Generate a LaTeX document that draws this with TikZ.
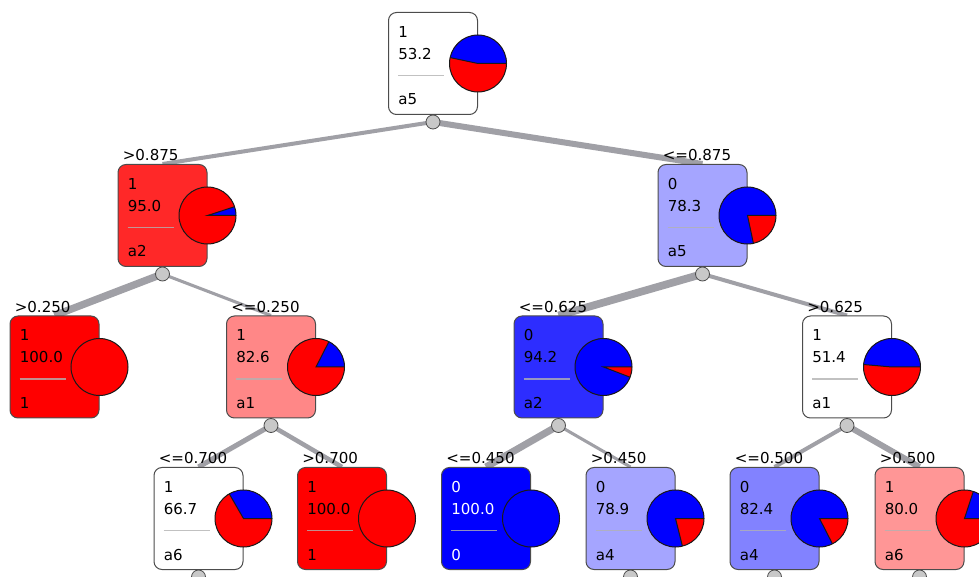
\documentclass[tikz,border=0pt]{standalone}
\usepackage{fontspec}
\setmainfont{DejaVu Sans}
\usetikzlibrary{backgrounds}

\definecolor{edgegray}{RGB}{160,160,166}
\definecolor{dotgray}{RGB}{200,200,200}
\definecolor{pred}{RGB}{255,0,0}
\definecolor{pblue}{RGB}{0,0,255}
\definecolor{redA}{RGB}{255,40,40}
\definecolor{redB}{RGB}{255,135,135}
\definecolor{redC}{RGB}{255,150,150}
\definecolor{blueA}{RGB}{45,45,255}
\definecolor{blueB}{RGB}{165,165,255}
\definecolor{blueC}{RGB}{130,130,255}

% pie on the right edge of a box: #1 node, #2 end angle of the blue part
\newcommand{\piechart}[2]{%
  \fill[pred] (#1.east) circle[radius=28.5];
  \ifnum#2>0
    \fill[pblue] (#1.east) -- ++(28.5,0) arc[start angle=0, end angle=#2, radius=28.5] -- cycle;
    \ifnum#2<360 \draw[pieline] (#1.east) ++(#2:28.5) -- (#1.east) -- ++(28.5,0); \fi
  \fi
  \draw[pieline] (#1.east) circle[radius=28.5];
}

% #1 name, #2 x, #3 y, #4 fill, #5 text colour, #6 class, #7 percent, #8 attribute, #9 pie angle
\newcommand{\treenode}[9]{%
  \node[box, fill=#4] (#1) at (#2,#3) {};
  \node[info, text=#5] (#1-cls) at ([shift={(10,-25.5)}]#1.north west) {#6};
  \node[info, text=#5] (#1-pct) at ([shift={(10,-47.5)}]#1.north west) {#7};
  \draw[sep] ([shift={(10,-63.5)}]#1.north west) -- ++(46,0);
  \node[info, text=#5] (#1-att) at ([shift={(10,-93)}]#1.north west) {#8};
  \piechart{#1}{#9}
}

% #1 parent, #2 child, #3 width, #4 condition
\newcommand{\branch}[4]{%
  \begin{pgfonlayer}{background}
    \draw[edge, line width=#3] (#1-dot.center) -- (#2.north);
  \end{pgfonlayer}
  \node[cond] (#2-cond) at ([shift={(5,3)}]#2.north west) {#4};
}

\begin{document}
\begin{tikzpicture}[x=0.75pt, y=0.75pt,
    box/.style={draw=black!70, line width=0.75pt, rounded corners=6pt,
      minimum width=66.75pt, minimum height=76.5pt, inner sep=0pt},
    info/.style={anchor=base west, inner sep=0pt, font=\fontsize{11.3}{13}\selectfont},
    cond/.style={anchor=base west, inner sep=0pt, font=\fontsize{11.3}{13}\selectfont},
    sep/.style={draw=gray!60, opacity=0.8, line width=0.8pt},
    pieline/.style={draw=black!90, line width=0.75pt},
    dot/.style={circle, draw=black!70, fill=dotgray, line width=0.6pt,
      minimum size=10.5pt, inner sep=0pt},
    edge/.style={draw=edgegray}]
  \useasboundingbox (0,0) rectangle (979,-577);
  \clip (0,0) rectangle (979,-577);

  % level 0
  \treenode{r}{433}{-63.5}{white}{black}{1}{53.2}{a5}{168}
  % level 1
  \treenode{rl}{162.5}{-215.5}{redA}{black}{1}{95.0}{a2}{18}
  \treenode{rr}{702.5}{-215.5}{blueB}{black}{0}{78.3}{a5}{282}
  % level 2
  \treenode{rll}{54.5}{-367}{pred}{black}{1}{100.0}{1}{0}
  \treenode{rlr}{271}{-367}{redB}{black}{1}{82.6}{a1}{63}
  \treenode{rrl}{558.5}{-367}{blueA}{black}{0}{94.2}{a2}{339}
  \treenode{rrr}{847}{-367}{white}{black}{1}{51.4}{a1}{175}
  % level 3
  \treenode{rlrl}{198.5}{-518.5}{white}{black}{1}{66.7}{a6}{120}
  \treenode{rlrr}{342}{-518.5}{pred}{black}{1}{100.0}{1}{0}
  \treenode{rrll}{486}{-518.5}{pblue}{white}{0}{100.0}{0}{360}
  \treenode{rrlr}{630.5}{-518.5}{blueB}{black}{0}{78.9}{a4}{284}
  \treenode{rrrl}{774.5}{-518.5}{blueC}{black}{0}{82.4}{a4}{297}
  \treenode{rrrr}{919.5}{-518.5}{redC}{black}{1}{80.0}{a6}{72}

  % split points
  \foreach \n in {r,rl,rr,rlr,rrl,rrr,rlrl,rrlr,rrrl,rrrr}
    \node[dot] (\n-dot) at ([yshift=-5.25pt]\n.south) {};

  % branches
  \branch{r}{rl}{3pt}{>0.875}
  \branch{r}{rr}{4.5pt}{<=0.875}
  \branch{rl}{rll}{5.5pt}{>0.250}
  \branch{rl}{rlr}{2.3pt}{<=0.250}
  \branch{rr}{rrl}{5.8pt}{<=0.625}
  \branch{rr}{rrr}{3pt}{>0.625}
  \branch{rlr}{rlrl}{3.8pt}{<=0.700}
  \branch{rlr}{rlrr}{3.4pt}{>0.700}
  \branch{rrl}{rrll}{5.3pt}{<=0.450}
  \branch{rrl}{rrlr}{2.3pt}{>0.450}
  \branch{rrr}{rrrl}{3pt}{<=0.500}
  \branch{rrr}{rrrr}{4.5pt}{>0.500}
\end{tikzpicture}
\end{document}
